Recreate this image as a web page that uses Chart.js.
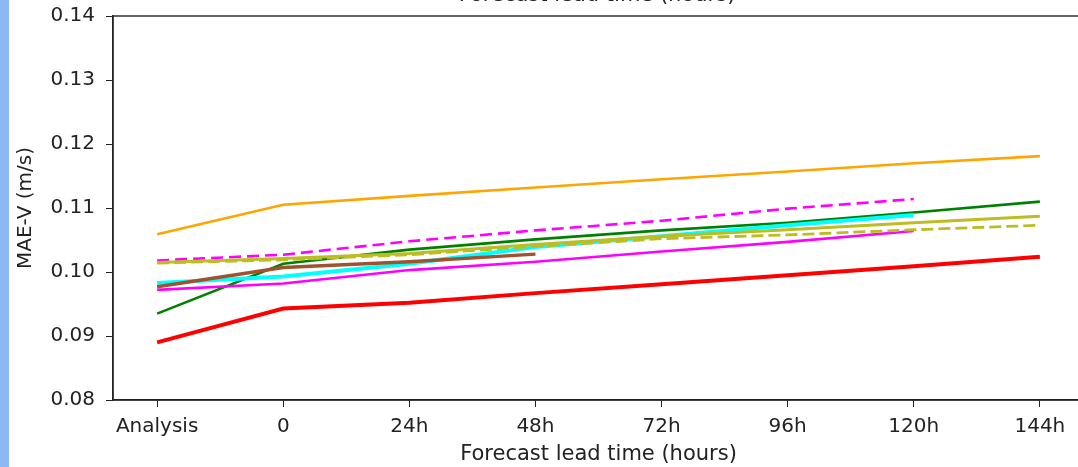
<!DOCTYPE html>
<html>
<head>
<meta charset="utf-8">
<script src="https://cdn.jsdelivr.net/npm/chart.js@4"></script>
<style>
    body { margin: 0; overflow: hidden; background: #fff; }
    #wrap { position: absolute; left: 0; top: 0; width: 1085px; height: 467px; }
    #strip { position: absolute; left: 0; top: 0; width: 9px; height: 467px; background: #8cb8f5; z-index: 2; }
</style>
</head>
<body>
<div id="strip"></div>
<div id="wrap"><canvas id="maeChart"></canvas></div>
<script>
    // lead times on the x axis
    const leadTimes = ['Analysis', '0', '24h', '48h', '72h', '96h', '120h', '144h'];
    const yTicks = [0.08, 0.09, 0.10, 0.11, 0.12, 0.13, 0.14];

    const orangeVals = [0.1059, 0.1105, 0.1119, 0.1132, 0.1145, 0.1157, 0.1170, 0.1181];
    const redVals = [0.0890, 0.0943, 0.0952, 0.0967, 0.0981, 0.0995, 0.1009, 0.1024];
    const greenVals = [0.0935, 0.1013, 0.1035, 0.1051, 0.1065, 0.1077, 0.1093, 0.1110];
    const cyanVals = [0.0983, 0.0993, 0.1013, 0.1039, 0.1056, 0.1073, 0.1089, null];
    const magentaVals = [0.0972, 0.0982, 0.1003, 0.1016, 0.1032, 0.1047, 0.1064, null];
    const brownVals = [0.0977, 0.1007, 0.1016, 0.1028, null, null, null, null];
    const magentaDashVals = [0.1018, 0.1027, 0.1048, 0.1065, 0.1080, 0.1099, 0.1114, null];
    const oliveVals = [0.1015, 0.1021, 0.1029, 0.1043, 0.1056, 0.1066, 0.1077, 0.1087];
    const oliveDashVals = [0.1014, 0.1019, 0.1027, 0.1040, 0.1052, 0.1058, 0.1066, 0.1073];

    function toPoints(vals) {
        return vals.map((v, i) => ({ x: i, y: v }));
    }

    function line(vals, color, width, dash) {
        return {
            data: toPoints(vals),
            borderColor: color,
            borderWidth: width,
            borderDash: dash || [],
            pointRadius: 0,
            tension: 0,
            spanGaps: false,
            fill: false
        };
    }

    // frame + the cut-off axis title of the panel above
    const framePlugin = {
        id: 'frame',
        afterDraw(chart) {
            const ctx = chart.ctx;
            const a = chart.chartArea;
            ctx.save();
            ctx.strokeStyle = '#222';
            ctx.lineWidth = 1.4;
            ctx.strokeRect(a.left, a.top, a.right - a.left, a.bottom - a.top);
            ctx.fillStyle = '#222';
            ctx.font = '21px "DejaVu Sans"';
            ctx.textAlign = 'center';
            ctx.textBaseline = 'alphabetic';
            ctx.fillText('Forecast lead time (hours)', 597, 1);
            ctx.restore();
        }
    };

    const tickFont = { family: 'DejaVu Sans', size: 20 };

    new Chart(document.getElementById('maeChart'), {
        type: 'line',
        data: {
            datasets: [
                line(oliveDashVals, '#bcbd22', 2.8, [12, 5]),
                line(oliveVals, '#bcbd22', 3),
                line(magentaDashVals, '#ff00ff', 2.6, [12, 6]),
                line(brownVals, '#a0522d', 3.4),
                line(magentaVals, '#ff00ff', 2.6),
                line(cyanVals, '#00ffff', 4),
                line(greenVals, '#008000', 2.6),
                line(redVals, '#ff0000', 4),
                line(orangeVals, '#ffa500', 2.6)
            ]
        },
        options: {
            responsive: true,
            maintainAspectRatio: false,
            devicePixelRatio: 1,
            animation: false,
            layout: { padding: { top: 16, right: 1, left: 0, bottom: 0 } },
            plugins: { legend: { display: false }, tooltip: { enabled: false } },
            scales: {
                x: {
                    type: 'linear',
                    min: -0.35,
                    max: 7.35,
                    afterBuildTicks: scale => {
                        scale.ticks = leadTimes.map((l, i) => ({ value: i }));
                    },
                    afterFit: scale => { scale.height = 67; },
                    ticks: {
                        callback: v => leadTimes[v],
                        font: tickFont,
                        color: '#222',
                        padding: 8,
                        maxRotation: 0,
                        autoSkip: false
                    },
                    grid: { display: true, drawOnChartArea: false, drawTicks: true, tickLength: 7, color: '#222' },
                    border: { display: true, color: '#222', width: 1.4 },
                    title: {
                        display: true,
                        text: 'Forecast lead time (hours)',
                        font: { family: 'DejaVu Sans', size: 21 },
                        color: '#222',
                        padding: { top: -5, bottom: 0 }
                    }
                },
                y: {
                    min: 0.08,
                    max: 0.14,
                    afterBuildTicks: scale => {
                        scale.ticks = yTicks.map(v => ({ value: v }));
                    },
                    afterFit: scale => {
                        scale.width = 113;
                        scale.paddingTop = 0;
                        scale.paddingBottom = 0;
                    },
                    ticks: {
                        callback: v => v.toFixed(2),
                        font: tickFont,
                        color: '#222',
                        padding: 11
                    },
                    grid: { display: true, drawOnChartArea: false, drawTicks: true, tickLength: 7, color: '#222' },
                    border: { display: true, color: '#222', width: 1.4 },
                    title: {
                        display: true,
                        text: 'MAE-V (m/s)',
                        font: { family: 'DejaVu Sans', size: 20 },
                        color: '#222',
                        padding: { top: 14, bottom: 0 }
                    }
                }
            }
        },
        plugins: [framePlugin]
    });
</script>
</body>
</html>
